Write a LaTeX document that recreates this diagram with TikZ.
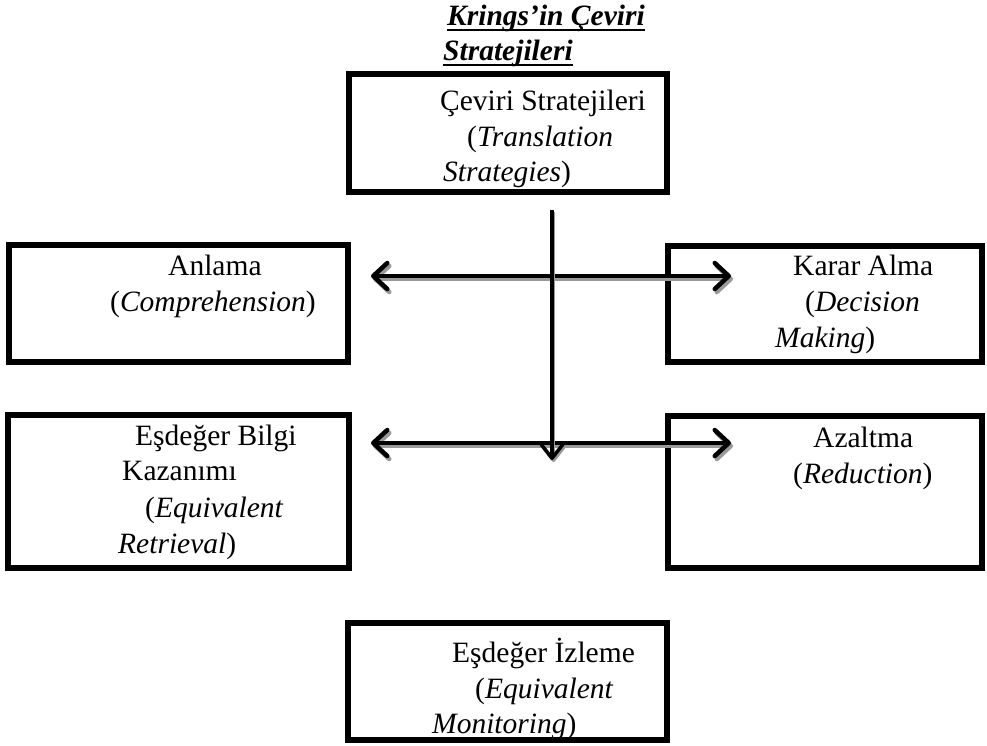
\documentclass[tikz,border=0pt]{standalone}
\usepackage{fontspec}
\setmainfont{Liberation Serif}
\usetikzlibrary{arrows.meta}
\begin{document}
\begin{tikzpicture}[x=1pt,y=-1pt,
  box/.style={draw=black, line width=6pt, inner sep=0pt, outer sep=0pt, fill=white},
  txt/.style={anchor=base west, inner sep=0pt, font=\fontsize{29.5}{35}\selectfont},
  ttl/.style={anchor=base west, inner sep=0pt, font=\fontsize{29.5}{35}\selectfont\bfseries\itshape},
  hbarb/.tip={Straight Barb[length=14pt, width=26pt, line cap=round, line join=round]},
  vbarb/.tip={Straight Barb[length=14pt, width=22pt, line cap=round, line join=round]},
  harrow/.style={line width=4.5pt, {hbarb}-{hbarb}},
  varrow/.style={line width=3.5pt, -{vbarb}},
  shadowc/.style={draw=black!40}
]
\path[use as bounding box, fill=white] (0,0) rectangle (987,745);

% boxes
\node[box, minimum width=318pt, minimum height=118pt] (top) at (508,133) {};
\node[box, minimum width=339.5pt, minimum height=117pt] (anl) at (178.25,303.5) {};
\node[box, minimum width=313.5pt, minimum height=116.5pt] (kar) at (824.75,303.75) {};
\node[box, minimum width=341pt, minimum height=153pt] (esb) at (178.5,491.5) {};
\node[box, minimum width=314pt, minimum height=152pt] (aza) at (825,492) {};
\node[box, minimum width=319pt, minimum height=117pt] (esi) at (507.5,681.5) {};

% title
\node[ttl] (t1) at (447,25) {Krings’in Çeviri};
\node[ttl] (t2) at (443,60) {Stratejileri};
\draw[line width=2pt] ([yshift=-4.5pt]t1.base west) -- ([yshift=-4.5pt]t1.base east);
\draw[line width=2pt] ([yshift=-4.5pt]t2.base west) -- ([yshift=-4.5pt]t2.base east);

% box texts
\node[txt] (top1) at (440,110) {Çeviri Stratejileri};
\node[txt] (top2) at (467,146) {(\textit{Translation}};
\node[txt] (top3) at (443,181) {\textit{Strategies})};

\node[txt] (anl1) at (168,275) {Anlama};
\node[txt] (anl2) at (110,311) {(\textit{Comprehension})};

\node[txt] (kar1) at (793,275) {Karar Alma};
\node[txt] (kar2) at (805,311) {(\textit{Decision}};
\node[txt] (kar3) at (775,347) {\textit{Making})};

\node[txt] (esb1) at (135,445) {Eşdeğer Bilgi};
\node[txt] (esb2) at (122,480) {Kazanımı};
\node[txt] (esb3) at (145,517) {(\textit{Equivalent}};
\node[txt] (esb4) at (118,553) {\textit{Retrieval})};

\node[txt] (aza1) at (813,447) {Azaltma};
\node[txt] (aza2) at (793,483) {(\textit{Reduction})};

\node[txt] (esi1) at (452,662) {Eşdeğer İzleme};
\node[txt] (esi2) at (475,698) {(\textit{Equivalent}};
\node[txt] (esi3) at (432,733) {\textit{Monitoring})};

% connector end points
\coordinate (h1l) at (371,276);
\coordinate (h1r) at (731,276);
\coordinate (h2l) at (371,443);
\coordinate (h2r) at (731,443);
\coordinate (vs) at (552,210);
\coordinate (ve) at (552,460);

% shadows
\begin{scope}[transform canvas={shift={(2pt,-3pt)}}]
  \draw[harrow, shadowc] (h1l) -- (h1r);
  \draw[harrow, shadowc] (h2l) -- (h2r);
\end{scope}
\draw[harrow] (h1l) -- (h1r);
\draw[harrow] (h2l) -- (h2r);
\begin{scope}[transform canvas={shift={(1.5pt,-2pt)}}]
  \draw[varrow, shadowc] (vs) -- (ve);
\end{scope}
\draw[varrow] (vs) -- (ve);
\end{tikzpicture}
\end{document}
